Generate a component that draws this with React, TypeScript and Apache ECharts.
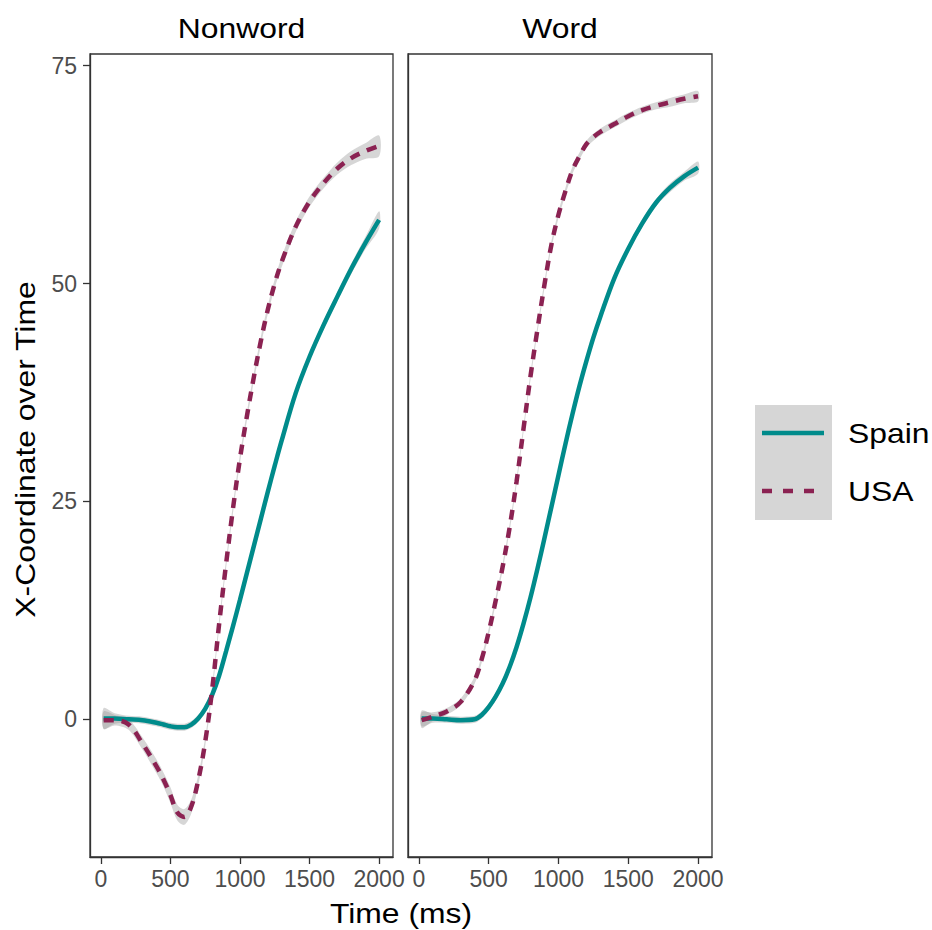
import React, { useEffect, useRef } from "react";
import * as echarts from "echarts";

const TIME = [20, 100, 200, 300, 400, 450, 500, 550, 600, 650, 700, 750, 800, 850, 900, 950, 1000, 1050, 1100, 1150, 1200, 1250, 1300, 1400, 1500, 1600, 1700, 1800, 1900, 2000];

const NONWORD_SPAIN = [0.1, 0.1, 0.0, -0.1, -0.4, -0.6, -0.8, -0.9, -0.9, -0.6, 0.1, 1.2, 2.8, 5.0, 7.8, 10.7, 13.7, 16.8, 19.9, 23.0, 26.1, 29.1, 32.0, 37.4, 41.6, 45.2, 48.5, 51.7, 54.6, 57.3];
const NONWORD_USA = [-0.1, -0.1, -0.6, -2.8, -5.4, -6.9, -8.7, -10.7, -11.2, -10.0, -7.0, -2.6, 3.4, 10.9, 17.8, 24.2, 29.9, 34.8, 39.3, 43.4, 47.0, 50.0, 52.5, 56.5, 59.4, 61.5, 63.2, 64.4, 65.2, 65.8];
const WORD_SPAIN = [0.1, 0.1, 0.0, -0.1, 0.0, 0.5, 1.4, 2.6, 4.1, 6.0, 8.3, 11.0, 14.0, 17.3, 20.8, 24.4, 28.0, 31.6, 35.0, 38.2, 41.1, 43.8, 46.2, 50.6, 54.0, 56.9, 59.3, 61.0, 62.3, 63.3];
const WORD_USA = [-0.1, 0.3, 0.9, 2.0, 4.5, 6.9, 10.0, 13.6, 17.5, 22.0, 27.3, 33.4, 39.4, 44.8, 49.9, 54.5, 57.9, 60.6, 63.0, 64.6, 66.0, 66.8, 67.4, 68.3, 69.2, 69.9, 70.4, 70.8, 71.2, 71.5];

// half-width of the grey confidence ribbon
const SE_NONWORD_SPAIN = [1.2, 0.6, 0.4, 0.4, 0.4, 0.4, 0.4, 0.4, 0.4, 0.4, 0.4, 0.4, 0.4, 0.4, 0.4, 0.4, 0.4, 0.4, 0.4, 0.4, 0.4, 0.4, 0.4, 0.4, 0.4, 0.5, 0.5, 0.6, 0.7, 1.0];
const SE_NONWORD_USA = [1.0, 0.6, 0.6, 0.7, 0.8, 0.8, 0.9, 0.9, 0.9, 0.8, 0.6, 0.5, 0.5, 0.5, 0.5, 0.5, 0.5, 0.5, 0.5, 0.5, 0.5, 0.5, 0.6, 0.6, 0.6, 0.6, 0.7, 0.8, 0.9, 1.2];
const SE_WORD_SPAIN = [0.9, 0.5, 0.4, 0.4, 0.4, 0.4, 0.4, 0.4, 0.4, 0.4, 0.4, 0.4, 0.4, 0.4, 0.4, 0.4, 0.4, 0.4, 0.4, 0.4, 0.4, 0.4, 0.4, 0.4, 0.4, 0.4, 0.4, 0.5, 0.5, 0.7];
const SE_WORD_USA = [0.9, 0.5, 0.4, 0.4, 0.4, 0.4, 0.4, 0.4, 0.4, 0.4, 0.4, 0.4, 0.4, 0.4, 0.4, 0.4, 0.4, 0.4, 0.4, 0.4, 0.4, 0.4, 0.4, 0.4, 0.4, 0.4, 0.4, 0.5, 0.5, 0.6];

const X_TICKS = [0, 500, 1000, 1500, 2000];
const Y_TICKS = [0, 25, 50, 75];
const PANELS = ["Nonword", "Word"];
const GROUPS = ["Spain", "USA"];

const SPAIN_COLOR = "#008B8B";
const USA_COLOR = "#8B2252";
const RIBBON = "rgba(153,153,153,0.4)";
const FONT = "'Liberation Sans', Arial, sans-serif";
const SMOOTH = 0.35;

function ribbon(axis: number, vals: number[], se: number[]) {
  return {
    type: "custom",
    coordinateSystem: "cartesian2d",
    xAxisIndex: axis,
    yAxisIndex: axis,
    data: [[TIME[0], vals[0]]],
    silent: true,
    z: 2,
    renderItem: (_params: any, api: any) => {
      const upper = TIME.map((t, i) => api.coord([t, vals[i] + se[i]]));
      const lower = TIME.map((t, i) => api.coord([t, vals[i] - se[i]])).reverse();
      return {
        type: "polygon",
        shape: { points: upper.concat(lower), smooth: 0.3 },
        style: { fill: RIBBON, stroke: "none" },
      };
    },
  };
}

function curve(name: string, axis: number, vals: number[], color: string, dashed: boolean) {
  return {
    name,
    type: "line",
    xAxisIndex: axis,
    yAxisIndex: axis,
    data: TIME.map((t, i) => [t, vals[i]]),
    symbol: "none",
    smooth: SMOOTH,
    z: 3,
    lineStyle: { color, width: 4.5, type: dashed ? [10, 8] : "solid", cap: "butt" },
  };
}

export default function App() {
  const ref = useRef<HTMLDivElement>(null);
  useEffect(() => {
    if (!ref.current) return;
    const chart = echarts.init(ref.current, null, { renderer: "svg" });
    const grids = [
      { left: 90, top: 54, width: 303, height: 803 },
      { left: 408, top: 54, width: 304, height: 803 },
    ].map((g) => ({ ...g, show: true, borderColor: "#333333", borderWidth: 1.3, backgroundColor: "transparent" }));

    const xAxes = [0, 1].map((i) => ({
      type: "value",
      gridIndex: i,
      min: -78,
      max: 2100,
      axisLine: { show: true, onZero: false, lineStyle: { color: "#333333", width: 1.3 } },
      axisTick: { show: true, length: 7, customValues: X_TICKS, lineStyle: { color: "#333333", width: 1.3 } },
      axisLabel: {
        show: true, customValues: X_TICKS, fontSize: 23, color: "#4D4D4D", margin: 10, fontFamily: FONT,
        formatter: (v: number) => String(v),
      },
      splitLine: { show: false },
    }));
    const yAxes = [0, 1].map((i) => ({
      type: "value",
      gridIndex: i,
      min: -15.8,
      max: 76.34,
      axisLine: { show: true, onZero: false, lineStyle: { color: "#333333", width: 1.3 } },
      axisTick: { show: i === 0, length: 7, customValues: Y_TICKS, lineStyle: { color: "#333333", width: 1.3 } },
      axisLabel: {
        show: i === 0, customValues: Y_TICKS, fontSize: 23, color: "#4D4D4D", margin: 13, fontFamily: FONT,
        formatter: (v: number) => String(v),
      },
      splitLine: { show: false },
    }));

    const series = [
      ribbon(0, NONWORD_SPAIN, SE_NONWORD_SPAIN),
      ribbon(0, NONWORD_USA, SE_NONWORD_USA),
      ribbon(1, WORD_SPAIN, SE_WORD_SPAIN),
      ribbon(1, WORD_USA, SE_WORD_USA),
      curve(GROUPS[0], 0, NONWORD_SPAIN, SPAIN_COLOR, false),
      curve(GROUPS[1], 0, NONWORD_USA, USA_COLOR, true),
      curve(GROUPS[0], 1, WORD_SPAIN, SPAIN_COLOR, false),
      curve(GROUPS[1], 1, WORD_USA, USA_COLOR, true),
    ];

    const titleText = (text: string, x: number, y: number, extra: any = {}) => ({
      type: "text",
      x,
      y,
      scaleX: 1.18,
      z: 10,
      ...extra,
      style: { text, fontSize: 27, fontFamily: FONT, fill: "#000000", align: "center", verticalAlign: "middle" },
    });

    const graphic = [
      titleText(PANELS[0], 241.5, 28),
      titleText(PANELS[1], 560, 28),
      titleText("Time (ms)", 401, 913),
      titleText("X-Coordinate over Time", 25.5, 449.5, { rotation: Math.PI / 2 }),
      { type: "rect", shape: { x: 755, y: 405, width: 77, height: 115 }, style: { fill: "#D6D6D6" }, z: 5 },
      { type: "line", shape: { x1: 762, y1: 433, x2: 824, y2: 433 }, style: { stroke: SPAIN_COLOR, lineWidth: 4.5 }, z: 6 },
      { type: "line", shape: { x1: 762, y1: 491, x2: 824, y2: 491 }, style: { stroke: USA_COLOR, lineWidth: 4.5, lineDash: [10, 11] }, z: 6 },
      {
        type: "text", x: 848, y: 433, scaleX: 1.18, z: 6,
        style: { text: GROUPS[0], fontSize: 27, fontFamily: FONT, fill: "#000000", align: "left", verticalAlign: "middle" },
      },
      {
        type: "text", x: 848, y: 491, scaleX: 1.18, z: 6,
        style: { text: GROUPS[1], fontSize: 27, fontFamily: FONT, fill: "#000000", align: "left", verticalAlign: "middle" },
      },
    ];

    chart.setOption({
      animation: false,
      backgroundColor: "#ffffff",
      grid: grids,
      xAxis: xAxes,
      yAxis: yAxes,
      series,
      graphic,
    });
    return () => chart.dispose();
  }, []);
  return <div ref={ref} style={{ position: "absolute", left: 0, top: 0, width: 932, height: 930 }} />;
}
